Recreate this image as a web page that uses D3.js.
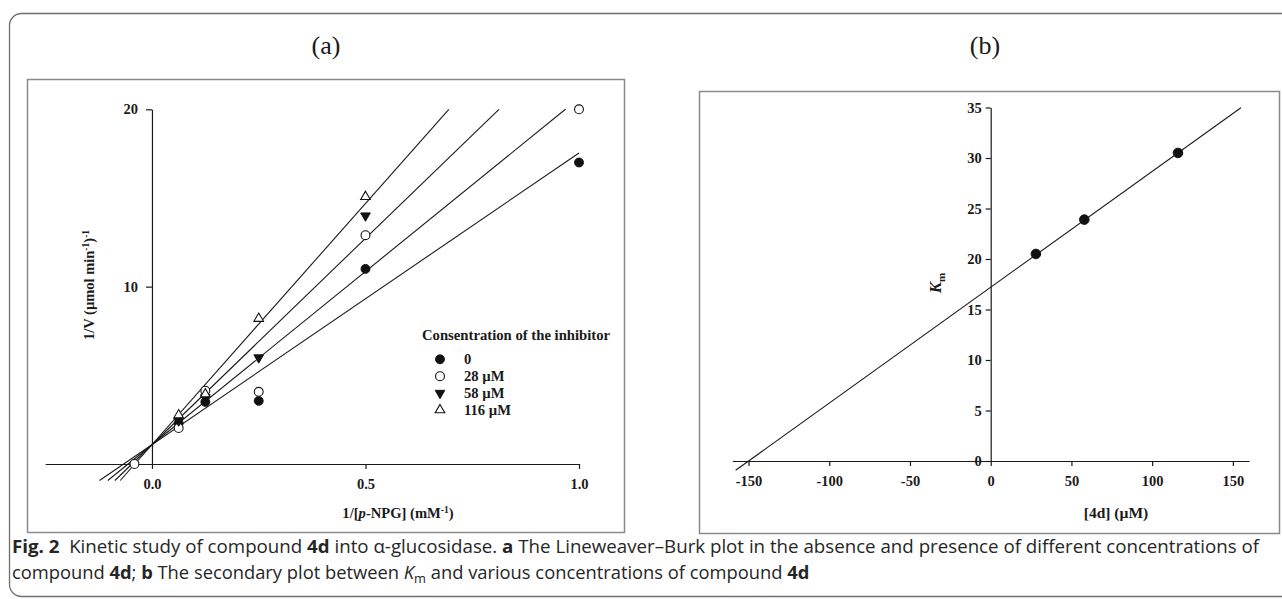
<!DOCTYPE html>
<html>
<head>
<meta charset="utf-8">
<script src="https://cdn.jsdelivr.net/npm/d3@7"></script>
<style>
  body { margin: 0; background: #fff; }
  svg { display: block; }
  .ax text { font-family: "Liberation Serif", "Times New Roman", serif; font-weight: bold; font-size: 14.5px; fill: #1a1a1a; }
  .ax path, .ax line { stroke: #1a1a1a; stroke-width: 1.2; }
  .serif { font-family: "Liberation Serif", "Times New Roman", serif; fill: #1a1a1a; }
  .cap { font-family: "Liberation Sans Narrow", "Open Sans", sans-serif; font-size: 18.5px; fill: #262626; white-space: pre; }
</style>
</head>
<body>
<script>
// ---- panel (a): Lineweaver-Burk data ----
const invS = [0.0625, 0.125, 0.25, 0.5, 1.0];      // 1/[p-NPG] (mM-1)
const seriesNames = ["0", "28 µM", "58 µM", "116 µM"];
const invV0   = [2.3, 3.5, 3.56, 11.0, 17.0];
const invV28  = [2.03, 4.13, 4.07, 12.9, 20.0];
const invV58  = [2.44, 3.75, 6.0, 14.0, null];
const invV116 = [2.76, 3.94, 8.2, 15.07, null];
// x-intercept marker drawn on the axis
const interceptX = [-0.041];
const interceptY = [0];
// regression lines (shared y intercept)
const fitSlopes = [16.45, 19.53, 23.27, 27.2];
const fitIntercept = 1.09;
const fitStartY = -0.93;
const xTicksA = [0, 0.5, 1.0];
const yTicksA = [10, 20];

// ---- panel (b): secondary plot ----
const conc = [28, 58, 116];          // [4d] (µM)
const km = [20.5, 23.9, 30.5];
const kmSlope = 0.1147;
const kmIntercept = 17.2;
const kmLineX = [-158, 155];
const xTicksB = [-150, -100, -50, 0, 50, 100, 150];
const yTicksB = [0, 5, 10, 15, 20, 25, 30, 35];

const W = 1282, H = 599;
const svg = d3.select("body").append("svg").attr("width", W).attr("height", H);

// outer figure frame (runs off the right side)
svg.append("rect")
  .attr("x", 9.5).attr("y", 13.5).attr("width", 1320).attr("height", 583)
  .attr("rx", 12).attr("fill", "none").attr("stroke", "#6e6e6e").attr("stroke-width", 1.3);

// panel boxes
svg.append("rect").attr("x", 27.5).attr("y", 79.5).attr("width", 597).attr("height", 453)
  .attr("fill", "none").attr("stroke", "#8a8a8a").attr("stroke-width", 1.5);
svg.append("rect").attr("x", 699.5).attr("y", 91.5).attr("width", 580).attr("height", 442)
  .attr("fill", "none").attr("stroke", "#8a8a8a").attr("stroke-width", 1.5);

// panel titles
svg.append("text").attr("class", "serif").attr("x", 326).attr("y", 54)
  .attr("text-anchor", "middle").attr("font-size", 26).text("(a)");
svg.append("text").attr("class", "serif").attr("x", 985).attr("y", 54)
  .attr("text-anchor", "middle").attr("font-size", 26).text("(b)");

// ================= panel (a) =================
const xA = d3.scaleLinear().domain([-0.25, 1.0]).range([45.2, 579]);
const yA = d3.scaleLinear().domain([0, 20]).range([464, 109.3]);

const gA = svg.append("g");

gA.append("g").attr("class", "ax")
  .attr("transform", `translate(0,${yA(0)})`)
  .call(d3.axisBottom(xA).tickValues(xTicksA).tickFormat(d3.format(".1f"))
    .tickSize(5).tickSizeOuter(0).tickPadding(10));

gA.append("g").attr("class", "ax")
  .attr("transform", `translate(${xA(0)},0)`)
  .call(d3.axisLeft(yA).tickValues(yTicksA).tickSize(6).tickSizeOuter(0).tickPadding(8));

// fitted lines
fitSlopes.forEach(s => {
  const x0 = (fitStartY - fitIntercept) / s;
  let x1 = Math.min(1.0, (20 - fitIntercept) / s);
  const y1 = fitIntercept + s * x1;
  gA.append("line")
    .attr("x1", xA(x0)).attr("y1", yA(fitStartY))
    .attr("x2", xA(x1)).attr("y2", yA(y1))
    .attr("stroke", "#1a1a1a").attr("stroke-width", 1.1);
});

const symCircle = d3.symbol().type(d3.symbolCircle).size(62);
const symCircleB = d3.symbol().type(d3.symbolCircle).size(72);
const symTri = d3.symbol().type(d3.symbolTriangle).size(40);

function drawMarker(g, kind, px, py, big) {
  const circ = big ? symCircleB : symCircle;
  if (kind === 0) {
    g.append("path").attr("d", circ()).attr("transform", `translate(${px},${py})`)
      .attr("fill", "#111").attr("stroke", "#111");
  } else if (kind === 1) {
    g.append("path").attr("d", circ()).attr("transform", `translate(${px},${py})`)
      .attr("fill", "#fff").attr("stroke", "#111").attr("stroke-width", 1.1);
  } else if (kind === 2) {
    g.append("path").attr("d", symTri()).attr("transform", `translate(${px},${py}) rotate(180)`)
      .attr("fill", "#111").attr("stroke", "#111");
  } else {
    g.append("path").attr("d", symTri()).attr("transform", `translate(${px},${py})`)
      .attr("fill", "#fff").attr("stroke", "#111").attr("stroke-width", 1.1);
  }
}

const allSeries = [invV0, invV28, invV58, invV116];
allSeries.forEach((vals, k) => {
  vals.forEach((v, i) => {
    if (v == null) return;
    drawMarker(gA, k, xA(invS[i]), yA(v));
  });
});
interceptX.forEach((x, i) => drawMarker(gA, 1, xA(x), yA(interceptY[i])));

// legend
const leg = gA.append("g");
leg.append("text").attr("class", "serif").attr("x", 422).attr("y", 339.5)
  .attr("font-size", 14.7).attr("font-weight", "bold").text("Consentration of the inhibitor");
seriesNames.forEach((name, k) => {
  const yy = 359.3 + k * 16.9;
  drawMarker(leg, k, 440, yy);
  leg.append("text").attr("class", "serif").attr("x", 464).attr("y", yy + 5)
    .attr("font-size", 14.6).attr("font-weight", "bold").text(name);
});

// axis titles
const xtA = gA.append("text").attr("class", "serif").attr("x", 398).attr("y", 518)
  .attr("text-anchor", "middle").attr("font-size", 14.6).attr("font-weight", "bold");
xtA.append("tspan").text("1/[");
xtA.append("tspan").attr("font-style", "italic").text("p");
xtA.append("tspan").text("-NPG] (mM");
xtA.append("tspan").attr("font-size", 9.5).attr("dy", -5).text("-1");
xtA.append("tspan").attr("dy", 5).text(")");

const ytA = gA.append("text").attr("class", "serif")
  .attr("transform", "translate(94,285) rotate(-90)")
  .attr("text-anchor", "middle").attr("font-size", 14.5).attr("font-weight", "bold");
ytA.append("tspan").text("1/V (µmol min");
ytA.append("tspan").attr("font-size", 9.5).attr("dy", -5).text("-1");
ytA.append("tspan").attr("dy", 5).text(")");
ytA.append("tspan").attr("font-size", 9.5).attr("dy", -5).text("-1");

// ================= panel (b) =================
const xB = d3.scaleLinear().domain([-160, 160]).range([732.4, 1249]);
const yB = d3.scaleLinear().domain([0, 35]).range([461, 107.5]);
const gB = svg.append("g");

gB.append("g").attr("class", "ax")
  .attr("transform", `translate(0,${yB(0)})`)
  .call(d3.axisBottom(xB).tickValues(xTicksB).tickFormat(d => String(d))
    .tickSize(5).tickSizeOuter(0).tickPadding(10));

gB.append("g").attr("class", "ax")
  .attr("transform", `translate(${xB(0)},0)`)
  .call(d3.axisLeft(yB).tickValues(yTicksB).tickSize(5).tickSizeOuter(0).tickPadding(4));

gB.append("line")
  .attr("x1", xB(kmLineX[0])).attr("y1", yB(kmIntercept + kmSlope * kmLineX[0]))
  .attr("x2", xB(kmLineX[1])).attr("y2", yB(kmIntercept + kmSlope * kmLineX[1]))
  .attr("stroke", "#1a1a1a").attr("stroke-width", 1.1);

conc.forEach((c, i) => drawMarker(gB, 0, xB(c), yB(km[i]), true));

gB.append("text").attr("class", "serif").attr("x", 1116).attr("y", 518)
  .attr("text-anchor", "middle").attr("font-size", 15.5).attr("font-weight", "bold")
  .text("[4d] (µM)");

const ytB = gB.append("text").attr("class", "serif")
  .attr("transform", "translate(941,283) rotate(-90)")
  .attr("text-anchor", "middle").attr("font-size", 17).attr("font-weight", "bold");
ytB.append("tspan").attr("font-style", "italic").text("K");
ytB.append("tspan").attr("font-size", 11).attr("dy", 4).text("m");

// ================= caption =================
// natural width is measured, then squeezed horizontally to the target width
function captionLine(parts, baseline, targetWidth) {
  const t = svg.append("text").attr("class", "cap").attr("x", 0).attr("y", 0);
  parts.forEach(p => {
    const s = t.append("tspan").text(p.t);
    if (p.b) s.attr("font-weight", "bold");
    if (p.i) s.attr("font-style", "italic");
    if (p.sub) s.attr("font-size", 13).attr("dy", 4);
    if (p.up) s.attr("dy", -4);
  });
  const len = t.node().getComputedTextLength();
  t.attr("transform", `translate(12,${baseline}) scale(${targetWidth / len},1)`);
}

captionLine([
  { t: "Fig. 2", b: true },
  { t: "  Kinetic study of compound " },
  { t: "4d", b: true },
  { t: " into α-glucosidase. " },
  { t: "a", b: true },
  { t: " The Lineweaver–Burk plot in the absence and presence of different concentrations of" }
], 553, 1248);

captionLine([
  { t: "compound " },
  { t: "4d", b: true },
  { t: "; " },
  { t: "b", b: true },
  { t: " The secondary plot between " },
  { t: "K", i: true },
  { t: "m", sub: true },
  { t: " and various concentrations of compound ", up: true },
  { t: "4d", b: true }
], 579, 798);
</script>
</body>
</html>
